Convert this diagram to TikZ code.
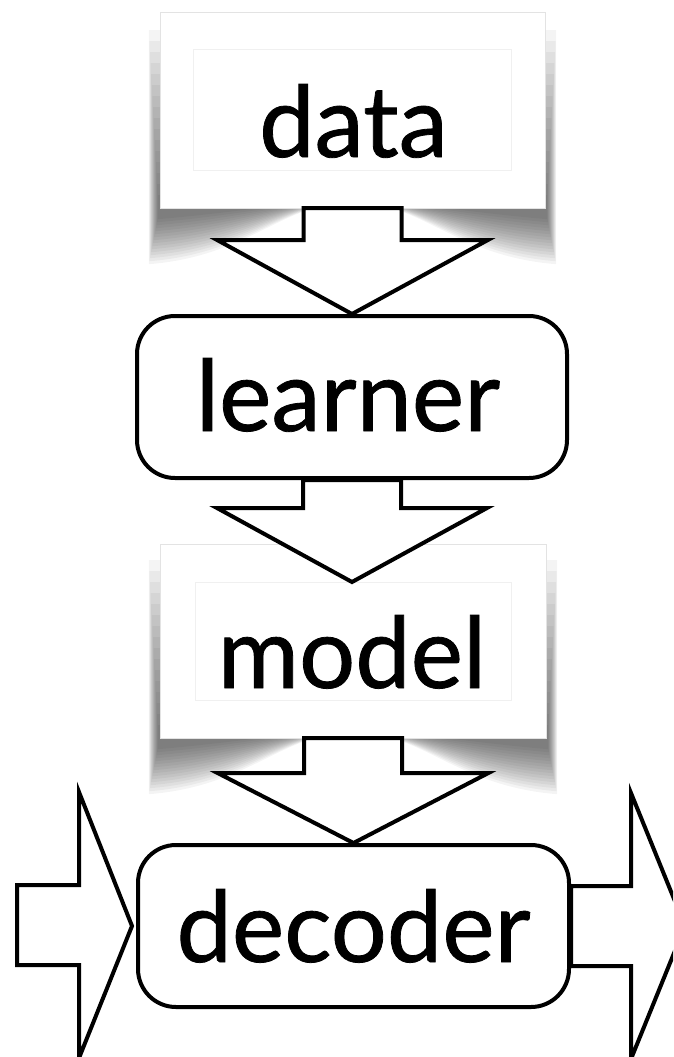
\documentclass[tikz,border=0pt]{standalone}
\usepackage{fontspec}
\setmainfont{Lato}
\newfontfamily\lblfont{Lato}[FakeBold=0.8]
\usetikzlibrary{calc}
\tikzset{
  x=1pt, y=-1pt,
  blk/.style={draw=black, line width=4pt, fill=white, line join=miter, miter limit=10},
  outerbox/.style={draw=gray!22, line width=0.8pt, fill=white, inner sep=0pt},
  innerbox/.style={draw=gray!12, line width=0.8pt, inner sep=0pt},
  procbox/.style={draw=black, line width=4pt, rounded corners=38pt, fill=white, inner sep=0pt},
  lbl/.style={font=\lblfont\fontsize{99}{110}\selectfont, anchor=base, inner sep=0pt, text=black},
  shadowlayer/.style={fill=black, opacity=0.042},
}
\newcommand{\liftshadow}[1]{%
  \foreach \i in {0,...,15}{%
    \fill[shadowlayer]
      ($(#1.south west)+(-11+0.6*\i,-178+11*\i)$) -- ($(#1.south west)+(-11+0.6*\i,56-3*\i)$)
      .. controls ($(#1.south west)+(90,48-3*\i)$) and ($(#1.south)+(-70,-6)$) .. ($(#1.south)+(0,-6)$)
      .. controls ($(#1.south)+(70,-6)$) and ($(#1.south east)+(-90,48-3*\i)$) ..
      ($(#1.south east)+(11-0.6*\i,56-3*\i)$) -- ($(#1.south east)+(11-0.6*\i,-178+11*\i)$) -- cycle;
  }}
\newcommand{\blockdown}[3]{%
  \draw[blk] ($(#1)+(-49,0)$) -- ($(#1)+(-49,#3)$) -- ($(#1)+(-135,#3)$) -- (#2)
    -- ($(#1)+(135,#3)$) -- ($(#1)+(49,#3)$) -- ($(#1)+(49,0)$) -- cycle;}
\begin{document}
\begin{tikzpicture}
  \useasboundingbox (0,0) rectangle (673,1057);
  \clip (0,0) rectangle (673,1057);
  % box frames (named) and their lifted shadows
  \path (352.5,110) node[minimum width=385pt, minimum height=196pt, inner sep=0pt] (dataouter) {};
  \path (353,641) node[minimum width=386pt, minimum height=194pt, inner sep=0pt] (modelouter) {};
  \liftshadow{dataouter}
  \liftshadow{modelouter}
  \node[outerbox, minimum width=385pt, minimum height=196pt] at (dataouter.center) {};
  \node[outerbox, minimum width=386pt, minimum height=194pt] at (modelouter.center) {};
  \node[innerbox, minimum width=318pt, minimum height=121pt] (datainner) at (352.5,110) {};
  \node[innerbox, minimum width=316pt, minimum height=118pt] (modelinner) at (353,641) {};
  \node[procbox, minimum width=430pt, minimum height=162pt] (learner) at (352,397) {};
  \node[procbox, minimum width=431pt, minimum height=162pt] (decoder) at (353.5,926) {};
  % labels
  \node[lbl] (datatext) at (353.5,157) {data};
  \node[lbl] (learnertext) at (348,431) {learner};
  \node[lbl] (modeltext) at (352,688) {model};
  \node[lbl] (decodertext) at (353.5,962) {decoder};
  % block arrows
  \coordinate (tip2) at ($(learner.south)+(0,102)$);
  \blockdown{dataouter.south}{learner.north}{32}
  \blockdown{learner.south}{tip2}{28}
  \blockdown{modelouter.south}{decoder.north}{35}
  \coordinate (inL) at (17,925);
  \draw[blk] ($(inL)+(0,-40)$) -- ($(inL)+(62,-40)$) -- ($(inL)+(62,-133)$)
    -- ($(decoder.west)+(-4,0)$) -- ($(inL)+(62,133)$) -- ($(inL)+(62,40)$)
    -- ($(inL)+(0,40)$) -- cycle;
  \coordinate (outR) at ($(decoder.east)+(114,0)$);
  \draw[blk] ($(decoder.east)+(0,-40)$) -- ($(decoder.east)+(60,-40)$)
    -- ($(decoder.east)+(60,-133)$) -- (outR) -- ($(decoder.east)+(60,133)$)
    -- ($(decoder.east)+(60,40)$) -- ($(decoder.east)+(0,40)$) -- cycle;
\end{tikzpicture}
\end{document}
